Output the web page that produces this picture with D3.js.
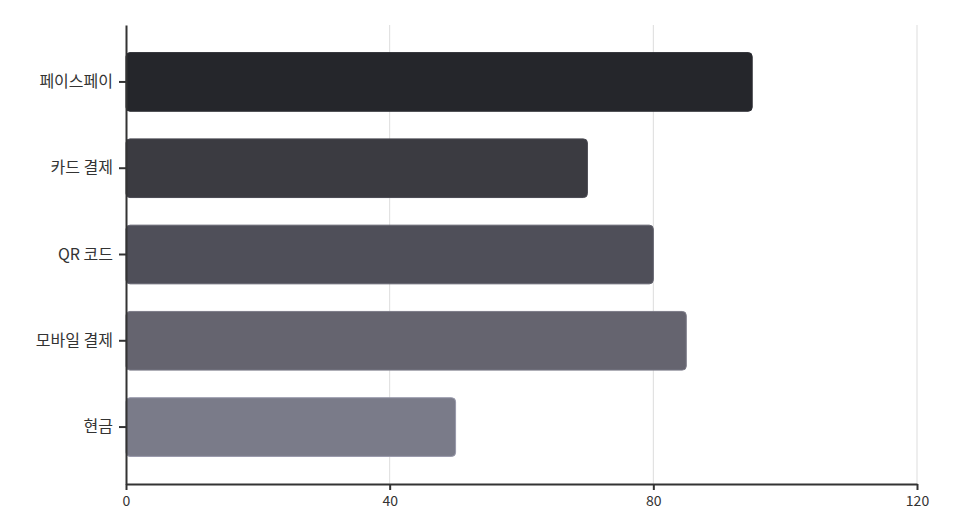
<!DOCTYPE html>
<html>
<head>
<meta charset="utf-8">
<script src="https://cdn.jsdelivr.net/npm/d3@7"></script>
<style>
  body { margin: 0; background: #fff; }
  svg { display: block; }
  text { font-family: "Noto Sans CJK KR", "Noto Sans", sans-serif; }
</style>
</head>
<body>
<svg id="chart" width="970" height="526"></svg>
<script>
const categories = ["페이스페이", "카드 결제", "QR 코드", "모바일 결제", "현금"];
const values = [95, 70, 80, 85, 50];
const colors = ["#25262b", "#3b3b41", "#4f4f59", "#65646f", "#7a7b89"];
const xTicks = [0, 40, 80, 120];

const svg = d3.select("#chart");
const margin = { top: 25, right: 53, bottom: 42, left: 126 };
const width = 970 - margin.left - margin.right;
const height = 526 - margin.top - margin.bottom;

const g = svg.append("g").attr("transform", `translate(${margin.left},${margin.top})`);

const x = d3.scaleLinear().domain([0, 120]).range([0, width]);
const y = d3.scaleBand().domain(categories).range([0, height]).padding(0.32);

// grid
g.append("g")
  .selectAll("line")
  .data(xTicks.filter(t => t > 0))
  .join("line")
  .attr("x1", d => x(d)).attr("x2", d => x(d))
  .attr("y1", 0).attr("y2", height)
  .attr("stroke", "#dddddd").attr("stroke-width", 1);

// bars
g.append("g")
  .selectAll("rect")
  .data(categories)
  .join("rect")
  .attr("x", 0)
  .attr("y", d => y(d))
  .attr("width", (d, i) => x(values[i]))
  .attr("height", y.bandwidth())
  .attr("rx", 4).attr("ry", 4)
  .attr("fill", (d, i) => colors[i])
  .attr("stroke", (d, i) => d3.color(colors[i]).brighter(0.6))
  .attr("stroke-width", 1);

// x axis
const xAxis = g.append("g")
  .attr("transform", `translate(0,${height})`)
  .call(d3.axisBottom(x).tickValues(xTicks).tickSize(6).tickSizeOuter(0));
xAxis.select(".domain").attr("stroke", "#333").attr("stroke-width", 2);
xAxis.selectAll(".tick line").attr("stroke", "#333").attr("stroke-width", 2);
xAxis.selectAll(".tick text").attr("fill", "#333").attr("font-size", 14).attr("dy", "0.95em");

// y axis
const yAxis = g.append("g")
  .call(d3.axisLeft(y).tickSize(7).tickSizeOuter(0));
yAxis.select(".domain").attr("stroke", "#333").attr("stroke-width", 2);
yAxis.selectAll(".tick line").attr("stroke", "#333").attr("stroke-width", 2);
yAxis.selectAll(".tick text").attr("fill", "#333").attr("font-size", 16).attr("x", -13);
</script>
</body>
</html>
